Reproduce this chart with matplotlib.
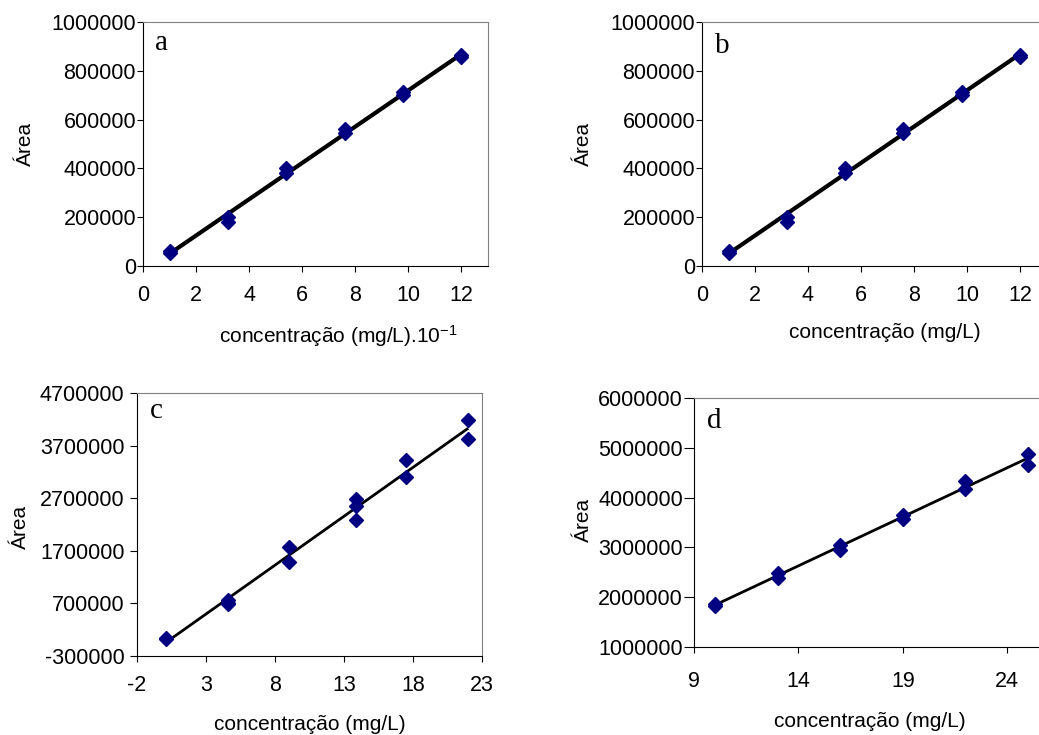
import matplotlib
matplotlib.use("Agg")
import matplotlib.pyplot as plt
import numpy as np

plt.rcParams['font.family'] = ['Liberation Sans', 'DejaVu Sans']
plt.rcParams['mathtext.default'] = 'regular'
plt.rcParams['axes.unicode_minus'] = False

# panel a / b (same calibration data)
conc_ab = [1, 1, 3.2, 3.2, 5.4, 5.4, 7.6, 7.6, 9.8, 9.8, 12, 12]
area_ab = [60000, 52000, 202000, 182000, 400000, 380000,
           560000, 546000, 714000, 700000, 865000, 855000]

# panel c
conc_c = [0.1, 0.1, 4.6, 4.6, 4.6, 9, 9, 13.9, 13.9, 13.9, 17.5, 17.5, 22, 22]
area_c = [40000, 30000, 765000, 700000, 680000, 1780000, 1495000,
          2690000, 2550000, 2285000, 3425000, 3100000, 4185000, 3825000]

# panel d
conc_d = [10, 10, 13, 13, 16, 16, 19, 19, 22, 22, 25, 25]
area_d = [1870000, 1830000, 2478000, 2390000, 3046000, 2945000,
          3647000, 3580000, 4330000, 4163000, 4885000, 4664000]

W, H = 1039, 735
fig = plt.figure(figsize=(W / 100, H / 100), dpi=100)


def add_ax(left, top, right, bottom):
    return fig.add_axes([left / W, 1 - bottom / H, (right - left) / W, (bottom - top) / H])


def painel(ax, x, y, letra, xlab, xlim, xticks, ylim, yticks, lw,
           letra_pos, xlab_pos, ylab_pos, ytick_len=4, ypad=1, xpad=10):
    x = np.array(x)
    y = np.array(y)
    b, a = np.polyfit(x, y, 1)
    xs = np.array([x.min(), x.max()])
    ax.plot(xs, a + b * xs, color='black', lw=lw, zorder=2, solid_capstyle='butt')
    ax.plot(x, y, 'D', ms=7, color='#000080', mec='#000080', zorder=3, clip_on=False)
    ax.set_xlim(xlim)
    ax.set_ylim(ylim)
    ax.set_xticks(xticks)
    ax.set_yticks(yticks)
    ax.set_yticklabels([str(v) for v in yticks])
    ax.tick_params(axis='both', direction='out', labelsize=15.5, colors='black')
    ax.tick_params(axis='x', length=4, pad=xpad)
    ax.tick_params(axis='y', length=ytick_len, pad=ypad)
    for s in ['top', 'right']:
        ax.spines[s].set_color('#808080')
    for s in ['left', 'bottom']:
        ax.spines[s].set_color('black')
    ax.text(letra_pos[0], letra_pos[1], letra, transform=ax.transAxes,
            family='Liberation Serif', fontsize=21, va='baseline')
    ax.set_xlabel(xlab, fontsize=15)
    ax.xaxis.set_label_coords(*xlab_pos)
    ax.set_ylabel('Área', fontsize=15)
    ax.yaxis.set_label_coords(*ylab_pos)


ax_a = add_ax(143, 22, 488, 266)
painel(ax_a, conc_ab, area_ab, 'a', 'concentração (mg/L).10$^{-1}$',
       (0, 13), range(0, 13, 2), (0, 1000000), range(0, 1000001, 200000), 3,
       (0.035, 0.885), (0.565, -0.234), (-0.313, 0.5))

ax_b = add_ax(702, 22, 1046.5, 266)
painel(ax_b, conc_ab, area_ab, 'b', 'concentração (mg/L)',
       (0, 13), range(0, 13, 2), (0, 1000000), range(0, 1000001, 200000), 3,
       (0.038, 0.873), (0.531, -0.234), (-0.316, 0.5))

ax_c = add_ax(137, 393, 482, 656)
painel(ax_c, conc_c, area_c, 'c', 'concentração (mg/L)',
       (-2, 23), range(-2, 24, 5), (-300000, 4700000), range(-300000, 4700001, 1000000), 2,
       (0.038, 0.905), (0.501, -0.224), (-0.31, 0.49), ytick_len=5, ypad=4)

ax_d = add_ax(694, 398, 1049, 647)
painel(ax_d, conc_d, area_d, 'd', 'concentração (mg/L)',
       (9, 26), range(9, 26, 5), (1000000, 6000000), range(1000000, 6000001, 1000000), 2,
       (0.037, 0.88), (0.496, -0.261), (-0.285, 0.51), ytick_len=7, ypad=1, xpad=13)

fig.savefig('out.png', dpi=100)
